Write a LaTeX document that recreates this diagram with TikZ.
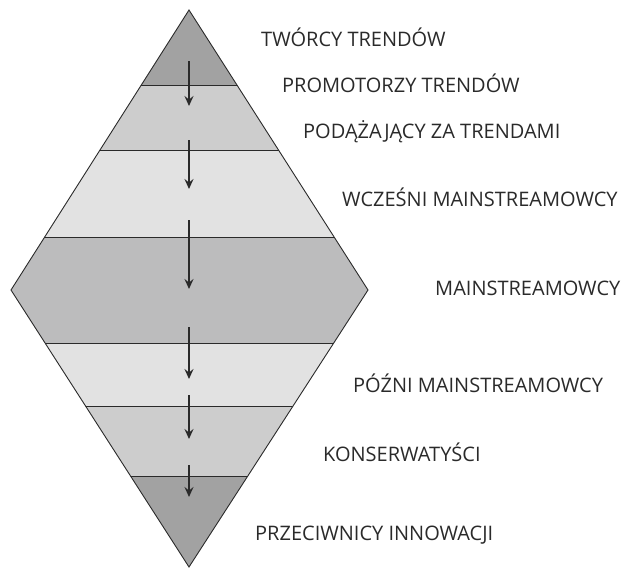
\documentclass[tikz,border=0pt]{standalone}
\usepackage{fontspec}
\setmainfont{Open Sans}
\usetikzlibrary{arrows.meta}
\definecolor{bandA}{HTML}{A2A2A2}
\definecolor{bandB}{HTML}{CDCDCD}
\definecolor{bandC}{HTML}{E2E2E2}
\definecolor{bandD}{HTML}{BCBCBD}
\definecolor{inkc}{HTML}{2A2A2A}
\begin{document}
\begin{tikzpicture}[x=1pt,y=-1pt,
  lbl/.style={anchor=west,inner sep=0pt,text=inkc,font=\fontsize{20}{23}\selectfont},
  flowarrow/.style={draw=inkc,line width=1.4pt,-{Stealth[length=10pt,width=9pt,inset=3.5pt]}},
  edge/.style={draw=inkc,line width=0.9pt}]
\useasboundingbox (0,0) rectangle (625,568);
\coordinate (T) at (189,10);
\coordinate (L) at (11,290);
\coordinate (R) at (368,290);
\coordinate (B) at (189,567);
\begin{scope}
  \clip (T) -- (R) -- (B) -- (L) -- cycle;
  \fill[bandA] (0,0) rectangle (625,85);
  \fill[bandB] (0,85) rectangle (625,150);
  \fill[bandC] (0,150) rectangle (625,237);
  \fill[bandD] (0,237) rectangle (625,343);
  \fill[bandC] (0,343) rectangle (625,406);
  \fill[bandB] (0,406) rectangle (625,476);
  \fill[bandA] (0,476) rectangle (625,568);
  \foreach \yy in {85,150,237,343,406,476}
    \draw[edge] (0,\yy) -- (625,\yy);
\end{scope}
\draw[edge,line join=miter] (T) -- (R) -- (B) -- (L) -- cycle;
% arrows
\coordinate (a1s) at (189,61);  \coordinate (a1e) at (189,106);
\coordinate (a2s) at (189,140); \coordinate (a2e) at (189,189);
\coordinate (a3s) at (189,220); \coordinate (a3e) at (189,289);
\coordinate (a4s) at (189,327); \coordinate (a4e) at (189,379);
\coordinate (a5s) at (189,395); \coordinate (a5e) at (189,439);
\coordinate (a6s) at (189,465); \coordinate (a6e) at (189,497);
\foreach \i in {1,...,6} \draw[flowarrow] (a\i s) -- (a\i e);
% labels
\node[lbl] (t1) at (261,37) {TWÓRCY TRENDÓW};
\node[lbl] (t2) at (282,83) {PROMOTORZY TRENDÓW};
\node[lbl] (t3) at (303,132) {PODĄŻAJĄCY ZA TRENDAMI};
\node[lbl] (t4) at (342,197) {WCZEŚNI MAINSTREAMOWCY};
\node[lbl] (t5) at (435,288) {MAINSTREAMOWCY};
\node[lbl] (t6) at (353,383) {PÓŹNI MAINSTREAMOWCY};
\node[lbl] (t7) at (323,452) {KONSERWATYŚCI};
\node[lbl] (t8) at (255,535) {PRZECIWNICY INNOWACJI};
\end{tikzpicture}
\end{document}
